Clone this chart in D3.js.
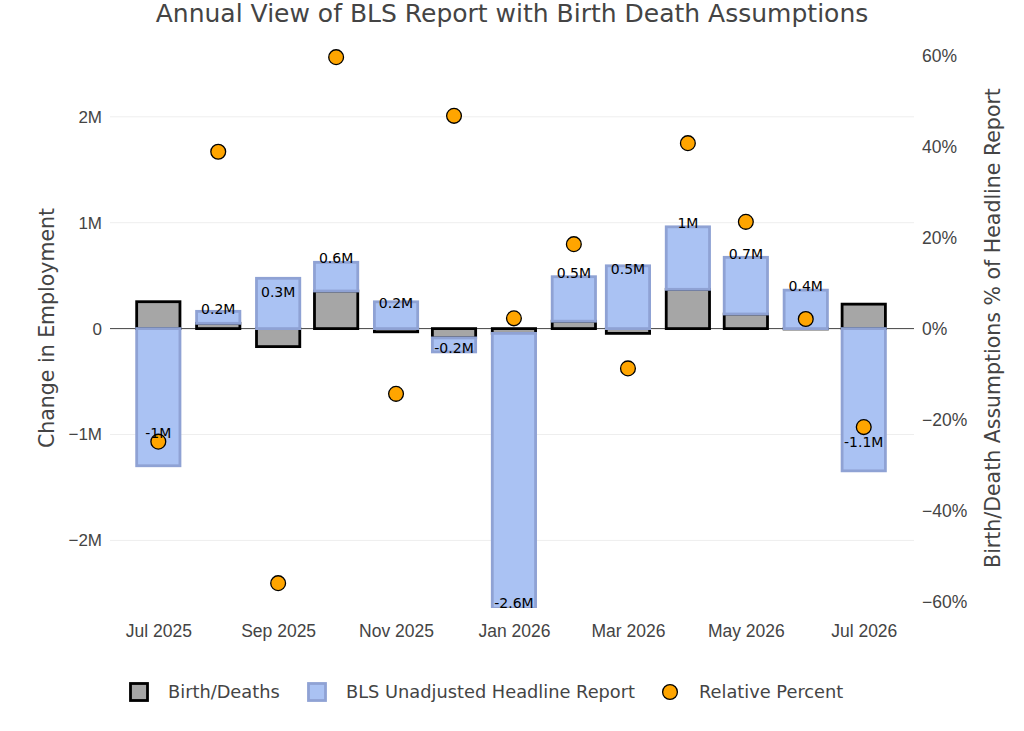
<!DOCTYPE html>
<html lang="en">
<head>
<meta charset="UTF-8">
<title>Annual View of BLS Report with Birth Death Assumptions</title>
<script src="https://cdn.jsdelivr.net/npm/d3@7"></script>
<style>
  body { margin: 0; background: #fff; }
  svg { display: block; font-family: Verdana, "DejaVu Sans", sans-serif; }
  .tick text { fill: #444; }
</style>
</head>
<body>
<svg id="chart" width="1024" height="731"></svg>
<script>
// months shown (bar centred on the 1st)
const months = ["2025-07", "2025-08", "2025-09", "2025-10", "2025-11", "2025-12",
                "2026-01", "2026-02", "2026-03", "2026-04", "2026-05", "2026-06", "2026-07"];
// millions of jobs
const birthDeaths = [0.254, 0.05, -0.17, 0.355, -0.03, -0.088, -0.045, 0.07, -0.045, 0.371, 0.138, -0.003, 0.231];
const headline    = [-1.295, 0.113, 0.475, 0.271, 0.253, -0.132, -2.595, 0.42, 0.593, 0.59, 0.535, 0.363, -1.343];
// text labels and where they sit (millions)
const labelValues = [-0.99, 0.19, 0.35, 0.67, 0.246, -0.18, -2.595, 0.525, 0.56, 0.993, 0.703, 0.40, -1.07];
const labelText   = ["-1M", "0.2M", "0.3M", "0.6M", "0.2M", "-0.2M", "-2.6M", "0.5M", "0.5M", "1M", "0.7M", "0.4M", "-1.1M"];
// birth/death as % of headline
const relativePct = [-24.8, 38.9, -55.9, 59.7, -14.3, 46.8, 2.3, 18.6, -8.7, 40.8, 23.5, 2.15, -21.6];

const leftTicks = [-2, -1, 0, 1, 2];
const rightTicks = [-60, -40, -20, 0, 20, 40, 60];

const parseMonth = d3.timeParse("%Y-%m");
const dates = months.map(parseMonth);

const svg = d3.select("#chart");
const plot = { left: 110, right: 914, top: 40, bottom: 608 };

const x = d3.scaleTime()
  .domain([new Date(2025, 5, 6), new Date(2026, 6, 27)])
  .range([plot.left, plot.right]);
const y = d3.scaleLinear().domain([-2.638, 2.725]).range([plot.bottom, plot.top]);
const y2 = d3.scaleLinear().domain([-61.36, 63.47]).range([plot.bottom, plot.top]);

const day = 864e5;
const halfBar = 11.2 * day;
const barW = d => x(new Date(+d + halfBar)) - x(new Date(+d - halfBar));

const minus = v => (v < 0 ? "\u2212" : "") + Math.abs(v);
const fmtLeft = v => v === 0 ? "0" : minus(v) + "M";
const fmtRight = v => minus(v) + "%";

svg.append("rect").attr("width", 1024).attr("height", 731).attr("fill", "#fff");

svg.append("defs").append("clipPath").attr("id", "clip")
  .append("rect")
  .attr("x", plot.left).attr("y", plot.top)
  .attr("width", plot.right - plot.left).attr("height", plot.bottom - plot.top);

// gridlines (left axis only)
svg.append("g")
  .selectAll("line")
  .data(leftTicks.filter(t => t !== 0))
  .join("line")
  .attr("x1", plot.left).attr("x2", plot.right)
  .attr("y1", d => y(d)).attr("y2", d => y(d))
  .attr("stroke", "#eee").attr("stroke-width", 1);

// zero line
svg.append("line")
  .attr("x1", plot.left).attr("x2", plot.right)
  .attr("y1", y(0)).attr("y2", y(0))
  .attr("stroke", "#444").attr("stroke-width", 1);

const bars = svg.append("g").attr("clip-path", "url(#clip)");

// birth/deaths bars
bars.selectAll(".bd")
  .data(dates)
  .join("rect")
  .attr("class", "bd")
  .attr("x", d => x(d) - barW(d) / 2)
  .attr("width", d => barW(d))
  .attr("y", (d, i) => y(Math.max(0, birthDeaths[i])))
  .attr("height", (d, i) => Math.abs(y(birthDeaths[i]) - y(0)))
  .attr("fill", "#a6a6a6")
  .attr("stroke", "#000")
  .attr("stroke-width", 2.8);

// headline bars, stacked relative to birth/deaths
const base = i => Math.sign(headline[i]) === Math.sign(birthDeaths[i]) ? birthDeaths[i] : 0;
bars.selectAll(".hl")
  .data(dates)
  .join("rect")
  .attr("class", "hl")
  .attr("x", d => x(d) - barW(d) / 2)
  .attr("width", d => barW(d))
  .attr("y", (d, i) => y(Math.max(base(i), base(i) + headline[i])))
  .attr("height", (d, i) => Math.abs(y(base(i) + headline[i]) - y(base(i))))
  .attr("fill", "#aac2f3")
  .attr("stroke", "#8fa2d4")
  .attr("stroke-width", 2.8);

// relative percent points
svg.append("g")
  .selectAll("circle")
  .data(dates)
  .join("circle")
  .attr("cx", d => x(d))
  .attr("cy", (d, i) => y2(relativePct[i]))
  .attr("r", 7.4)
  .attr("fill", "#ffa500")
  .attr("stroke", "#000")
  .attr("stroke-width", 1.3);

// value labels
svg.append("g")
  .selectAll("text")
  .data(dates)
  .join("text")
  .attr("x", d => x(d))
  .attr("y", (d, i) => y(labelValues[i]))
  .attr("dy", "0.36em")
  .attr("text-anchor", "middle")
  .attr("font-size", 14)
  .attr("fill", "#000")
  .text((d, i) => labelText[i]);

// axes
const xAxis = svg.append("g")
  .attr("transform", `translate(0,${plot.bottom})`)
  .call(d3.axisBottom(x)
    .ticks(d3.timeMonth.every(2))
    .tickFormat(d3.timeFormat("%b %Y"))
    .tickSize(0).tickPadding(17));
xAxis.select(".domain").remove();
xAxis.selectAll("text").attr("font-size", 17.5);

const yAxis = svg.append("g")
  .attr("transform", `translate(${plot.left},0)`)
  .call(d3.axisLeft(y).tickValues(leftTicks).tickFormat(fmtLeft).tickSize(0).tickPadding(8));
yAxis.select(".domain").remove();
yAxis.selectAll("text").attr("font-size", 17);

const y2Axis = svg.append("g")
  .attr("transform", `translate(${plot.right},0)`)
  .call(d3.axisRight(y2).tickValues(rightTicks).tickFormat(fmtRight).tickSize(0).tickPadding(8));
y2Axis.select(".domain").remove();
y2Axis.selectAll("text").attr("font-size", 17.5);

// titles
svg.append("text")
  .attr("x", 512).attr("y", 22)
  .attr("text-anchor", "middle")
  .attr("font-size", 25)
  .attr("fill", "#444")
  .text("Annual View of BLS Report with Birth Death Assumptions");

svg.append("text")
  .attr("transform", "translate(54,328) rotate(-90)")
  .attr("text-anchor", "middle")
  .attr("font-size", 20.5)
  .attr("fill", "#444")
  .text("Change in Employment");

svg.append("text")
  .attr("transform", "translate(1000,328) rotate(-90)")
  .attr("text-anchor", "middle")
  .attr("font-size", 20.5)
  .attr("fill", "#444")
  .text("Birth/Death Assumptions % of Headline Report");

// legend
const legend = svg.append("g").attr("transform", "translate(0,692)");
const items = [
  { label: "Birth/Deaths", x: 139, kind: "rect", fill: "#a6a6a6", stroke: "#000" },
  { label: "BLS Unadjusted Headline Report", x: 317, kind: "rect", fill: "#aac2f3", stroke: "#8fa2d4" },
  { label: "Relative Percent", x: 670, kind: "circle", fill: "#ffa500", stroke: "#000" }
];
items.forEach(it => {
  if (it.kind === "rect") {
    legend.append("rect")
      .attr("x", it.x - 8.5).attr("y", -8.5)
      .attr("width", 17).attr("height", 17)
      .attr("fill", it.fill).attr("stroke", it.stroke).attr("stroke-width", 2.8);
  } else {
    legend.append("circle")
      .attr("cx", it.x).attr("cy", 0).attr("r", 7.4)
      .attr("fill", it.fill).attr("stroke", it.stroke).attr("stroke-width", 1.3);
  }
  legend.append("text")
    .attr("x", it.x + 29).attr("y", 0).attr("dy", "0.36em")
    .attr("font-size", 17.8)
    .attr("fill", "#444")
    .text(it.label);
});
</script>
</body>
</html>
